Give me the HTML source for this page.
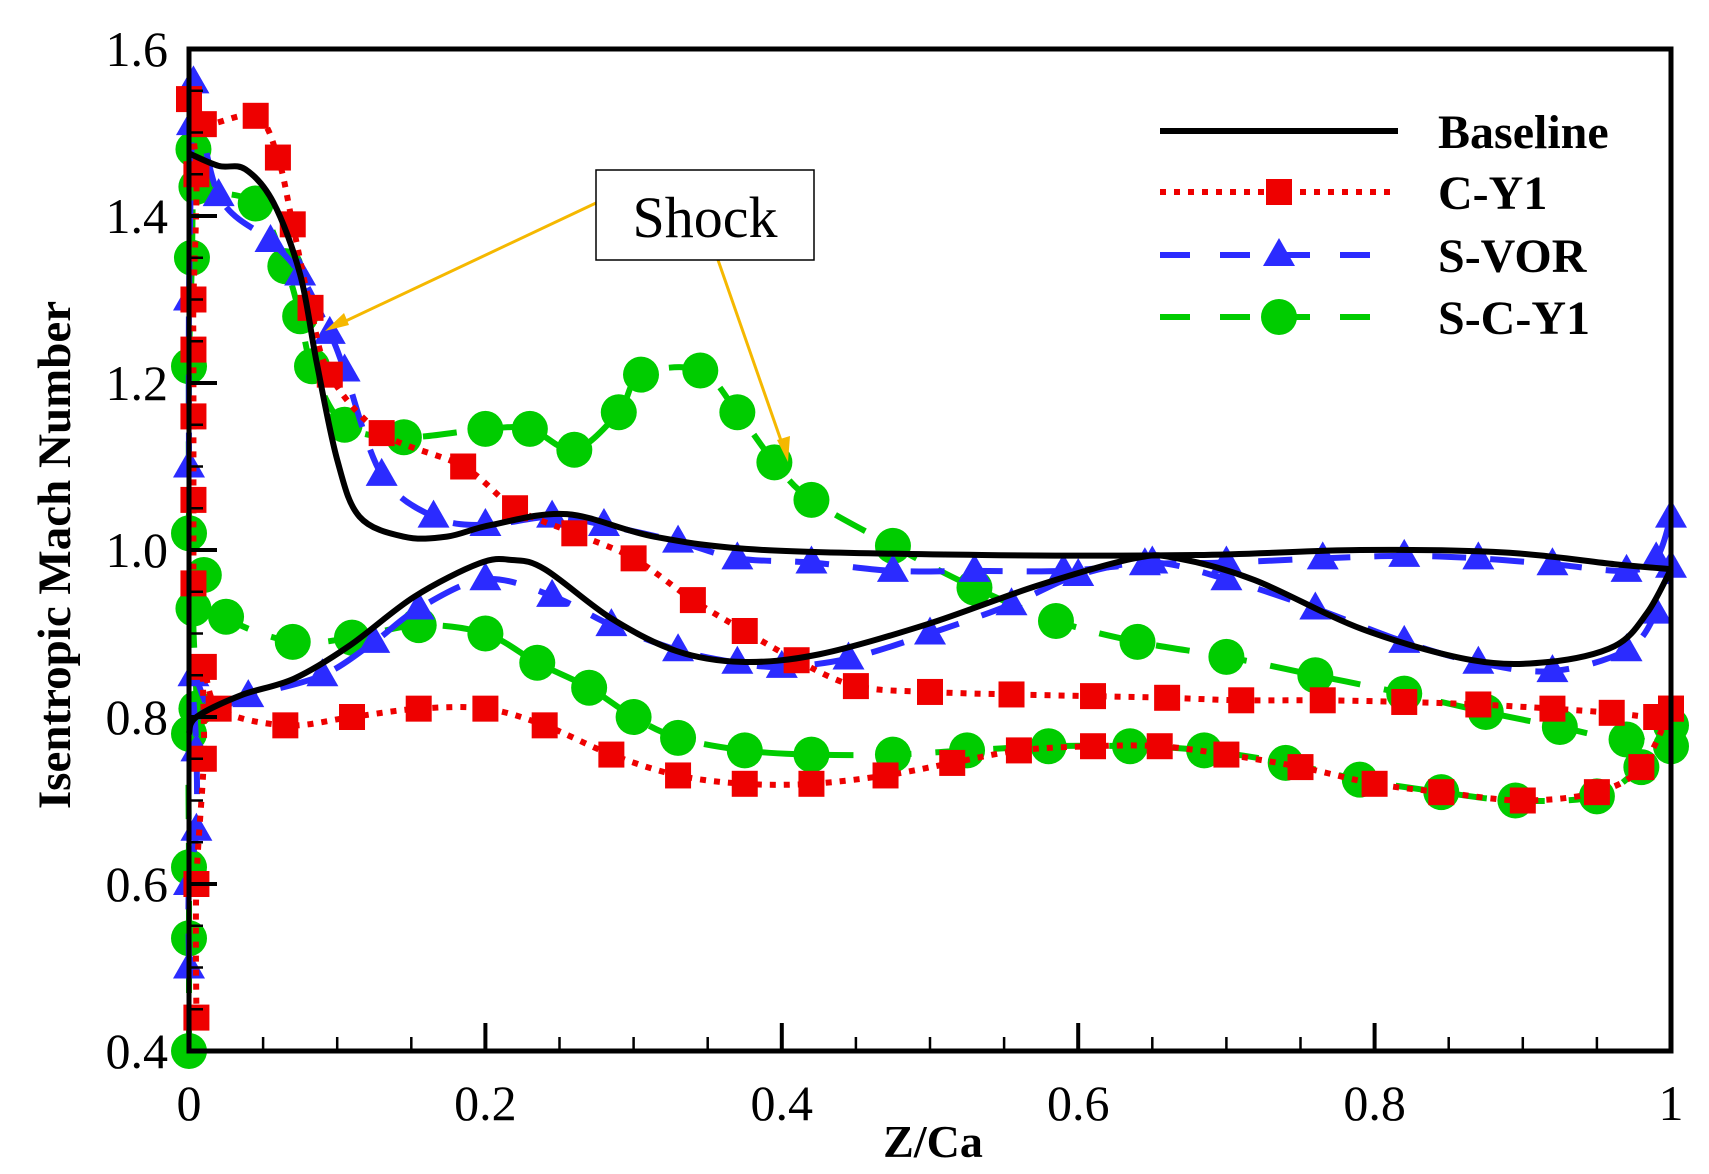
<!DOCTYPE html>
<html><head><meta charset="utf-8">
<style>
html,body{margin:0;padding:0;background:#fff;}
svg{display:block;}
</style></head>
<body>
<svg id="chart" xmlns="http://www.w3.org/2000/svg" width="1709" height="1174" viewBox="0 0 1709 1174">
<g id="series"></g>
<g id="axes"></g>
<text x="0" y="0" transform="translate(70,555) rotate(-90)" text-anchor="middle" font-family="Liberation Serif, serif" font-weight="bold" font-size="47">Isentropic Mach Number</text>
<text x="933" y="1157" text-anchor="middle" font-family="Liberation Serif, serif" font-weight="bold" font-size="46">Z/Ca</text>
<g>
<line x1="596" y1="203" x2="333" y2="327" stroke="#f5b800" stroke-width="3"/>
<polygon points="325,331 344,313 349,325" fill="#f5b800"/>
<line x1="718" y1="260" x2="785" y2="452" stroke="#f5b800" stroke-width="3"/>
<polygon points="788,462 777,440 790,436" fill="#f5b800"/>
<rect x="596" y="170" width="218" height="90" fill="#fff" stroke="#000" stroke-width="1.5"/>
<text x="705" y="237" text-anchor="middle" font-family="Liberation Serif, serif" font-size="58">Shock</text>
</g>
<g id="legend"></g>
</svg>
<script>
const xTicks=[0,0.2,0.4,0.6,0.8,1];
const xTickLabels=["0","0.2","0.4","0.6","0.8","1"];
const yTicks=[0.4,0.6,0.8,1.0,1.2,1.4,1.6];
const yTickLabels=["0.4","0.6","0.8","1.0","1.2","1.4","1.6"];

const baseUpX=[0,0.02,0.038,0.057,0.075,0.086,0.10,0.115,0.145,0.174,0.204,0.255,0.314,0.388,0.535,0.68,0.79,0.888,0.962,1.0];
const baseUpY=[1.475,1.46,1.456,1.416,1.33,1.226,1.108,1.04,1.016,1.016,1.03,1.043,1.016,1.0,0.994,0.994,1.0,0.997,0.983,0.977];
const baseLoX=[0,0.005,0.035,0.071,0.108,0.152,0.196,0.218,0.24,0.285,0.329,0.373,0.425,0.498,0.572,0.638,0.667,0.719,0.792,0.866,0.918,0.962,0.984,1.0];
const baseLoY=[0.78,0.80,0.826,0.846,0.885,0.944,0.984,0.988,0.977,0.918,0.879,0.866,0.875,0.911,0.957,0.99,0.99,0.964,0.905,0.868,0.866,0.885,0.925,0.977];

const cy1UpX=[0.003,0.003,0.003,0.003,0.003,0.005,0,0.01,0.045,0.06,0.07,0.082,0.095,0.13,0.185,0.22,0.26,0.3,0.34,0.375,0.41,0.45,0.5,0.555,0.61,0.66,0.71,0.765,0.82,0.87,0.92,0.96,0.99,1.0];
const cy1UpY=[0.96,1.06,1.16,1.24,1.30,1.45,1.54,1.51,1.52,1.47,1.39,1.29,1.21,1.14,1.10,1.05,1.02,0.99,0.94,0.903,0.868,0.837,0.83,0.827,0.825,0.823,0.82,0.82,0.818,0.815,0.81,0.805,0.8,0.81];
const cy1LoX=[0.005,0.005,0.01,0.01,0.02,0.065,0.11,0.155,0.2,0.24,0.285,0.33,0.375,0.42,0.47,0.515,0.56,0.61,0.655,0.7,0.75,0.8,0.845,0.9,0.95,0.98,1.0];
const cy1LoY=[0.44,0.6,0.75,0.86,0.81,0.79,0.80,0.81,0.81,0.79,0.755,0.73,0.72,0.72,0.73,0.745,0.76,0.765,0.765,0.755,0.74,0.72,0.71,0.70,0.71,0.74,0.81];

const vorUpX=[0,0,0.002,0.003,0.02,0.055,0.075,0.095,0.105,0.13,0.165,0.2,0.245,0.28,0.33,0.37,0.42,0.475,0.53,0.59,0.645,0.7,0.765,0.82,0.87,0.92,0.97,0.99,1.0];
const vorUpY=[1.10,1.30,1.51,1.56,1.425,1.37,1.33,1.26,1.215,1.09,1.04,1.03,1.04,1.03,1.01,0.99,0.985,0.975,0.975,0.975,0.983,0.985,0.99,0.993,0.99,0.983,0.975,0.99,1.04];
const vorLoX=[0,0,0.005,0.005,0.003,0.015,0.04,0.09,0.125,0.155,0.2,0.245,0.285,0.33,0.37,0.4,0.445,0.5,0.555,0.6,0.65,0.7,0.76,0.82,0.87,0.92,0.97,0.99,1.0];
const vorLoY=[0.5,0.6,0.665,0.76,0.85,0.81,0.825,0.85,0.89,0.93,0.965,0.945,0.91,0.88,0.865,0.86,0.87,0.9,0.935,0.97,0.985,0.965,0.93,0.89,0.865,0.855,0.88,0.925,0.98];

const scyUpX=[0,0,0.002,0.003,0.005,0.045,0.065,0.075,0.083,0.105,0.145,0.2,0.23,0.26,0.29,0.305,0.345,0.37,0.395,0.42,0.475,0.53,0.585,0.64,0.7,0.76,0.82,0.875,0.925,0.97,1.0];
const scyUpY=[1.02,1.22,1.35,1.48,1.435,1.415,1.34,1.28,1.22,1.15,1.135,1.145,1.145,1.12,1.165,1.21,1.215,1.165,1.105,1.06,1.005,0.955,0.915,0.89,0.872,0.85,0.828,0.806,0.788,0.773,0.79];
const scyLoX=[0,0,0,0,0.005,0.003,0.01,0.025,0.07,0.11,0.155,0.2,0.235,0.27,0.3,0.33,0.375,0.42,0.475,0.525,0.58,0.635,0.685,0.74,0.79,0.845,0.895,0.95,0.98,1.0];
const scyLoY=[0.40,0.535,0.62,0.78,0.81,0.93,0.97,0.92,0.89,0.895,0.91,0.9,0.865,0.835,0.8,0.775,0.76,0.755,0.755,0.76,0.765,0.765,0.76,0.745,0.725,0.71,0.70,0.705,0.74,0.765];

const X0=189,X1=1671,Y0=1051,Y1=49;
function sx(v){return X0+(v-0)*(X1-X0)/1;}
function sy(v){return Y0-(v-0.4)*(Y0-Y1)/1.2;}
const NS="http://www.w3.org/2000/svg";
function mk(tag,attrs,parent){const e=document.createElementNS(NS,tag);for(const k in attrs)e.setAttribute(k,attrs[k]);parent.appendChild(e);return e;}

function smoothPath(xs,ys){
  const p=xs.map((x,i)=>[sx(x),sy(ys[i])]);
  let d="M"+p[0][0]+","+p[0][1];
  for(let i=0;i<p.length-1;i++){
    const p0=p[Math.max(i-1,0)],p1=p[i],p2=p[i+1],p3=p[Math.min(i+2,p.length-1)];
    const c1=[p1[0]+(p2[0]-p0[0])/6,p1[1]+(p2[1]-p0[1])/6];
    const c2=[p2[0]-(p3[0]-p1[0])/6,p2[1]-(p3[1]-p1[1])/6];
    d+=" C"+c1[0]+","+c1[1]+" "+c2[0]+","+c2[1]+" "+p2[0]+","+p2[1];
  }
  return d;
}
function marker(type,cx,cy,color,parent){
  let el;
  if(type==="square") el=mk("rect",{x:cx-13,y:cy-13,width:26,height:26,fill:color},parent);
  else if(type==="tri") el=mk("polygon",{points:`${cx},${cy-17} ${cx-16},${cy+11} ${cx+16},${cy+11}`,fill:color},parent);
  else el=mk("circle",{cx:cx,cy:cy,r:18,fill:color},parent);
  return el;
}
const layer=document.getElementById("series");
function drawSeries(name,branches,color,dash,width,mtype){
  const g=mk("g",{},layer);
  
  
  branches.forEach((b,bi)=>{
    const path=mk("path",{d:smoothPath(b[0],b[1]),fill:"none",stroke:color,"stroke-width":width,"stroke-dasharray":dash},g);
    
    
  });
  if(mtype){
    branches.forEach((b,bi)=>{
      b[0].forEach((x,i)=>{
        const m=marker(mtype,sx(x),sy(b[1][i]),color,g);
        
        
      });
    });
  }
}
drawSeries("s-c-y1",[[scyUpX,scyUpY],[scyLoX,scyLoY]],"#00cc00","34,24",6,"circle");
drawSeries("s-vor",[[vorUpX,vorUpY],[vorLoX,vorLoY]],"#2b2bff","34,24",6,"tri");
drawSeries("c-y1",[[cy1UpX,cy1UpY],[cy1LoX,cy1LoY]],"#ee0000","6,8",6,"square");
drawSeries("baseline",[[baseUpX,baseUpY],[baseLoX,baseLoY]],"#000","none",6,null);

const ax=document.getElementById("axes");
const frame=mk("rect",{x:X0,y:Y1,width:X1-X0,height:Y0-Y1,fill:"none",stroke:"#000","stroke-width":5},ax);


for(let i=0;i<=20;i++){
  const v=i*0.05, x=sx(v), major=(i%4===0);
  const t=mk("line",{x1:x,y1:Y0,x2:x,y2:Y0-(major?28:14),stroke:"#000","stroke-width":major?4:2.5},ax);
  
  
}
for(let i=0;i<=24;i++){
  const v=0.4+i*0.05, y=sy(v), major=(i%4===0);
  const t=mk("line",{x1:X0,y1:y,x2:X0+(major?28:14),y2:y,stroke:"#000","stroke-width":major?4:2.5},ax);
  
  
}
xTicks.forEach((v,i)=>{
  const t=mk("text",{x:sx(v),y:1120,"text-anchor":"middle","font-family":"Liberation Serif, serif","font-size":50},ax);
  t.textContent=xTickLabels[i];
  
  
});
yTicks.forEach((v,i)=>{
  const t=mk("text",{x:168,y:sy(v)+17,"text-anchor":"end","font-family":"Liberation Serif, serif","font-size":50},ax);
  t.textContent=yTickLabels[i];
  
  
});

const lg=document.getElementById("legend");
const legNames=["Baseline","C-Y1","S-VOR","S-C-Y1"];
const legColors=["#000","#ee0000","#2b2bff","#00cc00"];
const legDash=["none","6,8","30,30","30,30"];
const legMarker=[null,"square","tri","circle"];
const legY=[131,192,255,317];
legNames.forEach((n,i)=>{
  const g=mk("g",{},lg);
  
  
  mk("line",{x1:1160,y1:legY[i],x2:1398,y2:legY[i],stroke:legColors[i],"stroke-width":6,"stroke-dasharray":legDash[i]},g);
  if(legMarker[i]) marker(legMarker[i],1279,legY[i],legColors[i],g);
  const t=mk("text",{x:1438,y:legY[i]+17,"font-family":"Liberation Serif, serif","font-weight":"bold","font-size":48},g);
  t.textContent=n;
});
</script>
</body></html>
